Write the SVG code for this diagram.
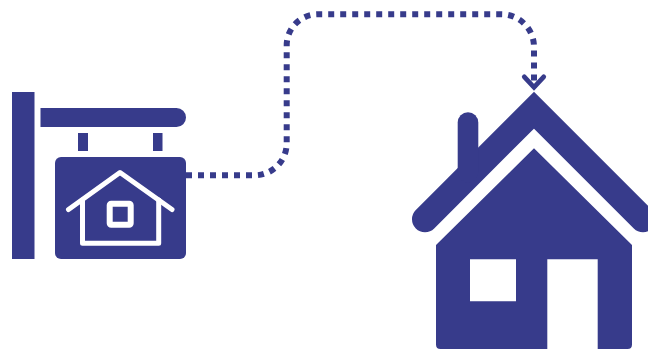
<svg xmlns="http://www.w3.org/2000/svg" width="648" height="349" viewBox="0 0 648 349">
<style>
.f{fill:#373b8b}
.w{fill:none;stroke:#fff;stroke-width:5;stroke-linecap:round;stroke-linejoin:round}
.c{fill:none;stroke:#373b8b;stroke-width:6;stroke-dasharray:6 6}
</style>
<defs>
<marker id="arrow" markerUnits="userSpaceOnUse" markerWidth="30" markerHeight="30" refX="15" refY="15" orient="auto" overflow="visible">
<path d="M4.500 5.300L15 15L4.500 24.700" fill="none" stroke="#373b8b" stroke-width="4.800" stroke-linecap="round" stroke-linejoin="miter"/>
</marker>
</defs>
<rect width="648" height="349" fill="#fff"/>
<g id="connectors">
<path class="c" marker-end="url(#arrow)" d="M186 175.300H254.700A32 32 0 0 0 286.700 143.300V45.300A31 31 0 0 1 317.700 14.300H501.400A32.600 32.600 0 0 1 534 46.900V87.300"/>
</g>
<g id="sign">
<rect class="f" x="12" y="92" width="22.500" height="167"/>
<path class="f" d="M40.500 108H176.500A9.500 9.500 0 0 1 176.500 127H40.500Z"/>
<rect class="f" x="78" y="133" width="10" height="18"/>
<rect class="f" x="153" y="133" width="9.500" height="18"/>
<rect class="f" x="55" y="157" width="131" height="102" rx="6"/>
<path class="w" d="M68.500 209.500L120 172.500L172 209.500"/>
<path class="w" d="M82.500 200V243.300H158.700V200"/>
<rect x="109.700" y="203.700" width="21" height="21" rx="1.500" fill="none" stroke="#fff" stroke-width="6" stroke-linejoin="round"/>
</g>
<g id="house">
<path d="M425 219.200L534 110.200L643 219.200" fill="none" stroke="#373b8b" stroke-width="26" stroke-linecap="round" stroke-linejoin="miter" stroke-miterlimit="4"/>
<path d="M468 122.600V172" fill="none" stroke="#373b8b" stroke-width="20.600" stroke-linecap="round"/>
<path class="f" fill-rule="evenodd" d="M534 148.300L632 245V344.500Q632 349 627.500 349H440.500Q436 349 436 344.500V245ZM470 259.300V301.300H516V259.300ZM547.300 259.300V349H597.700V259.300Z"/>
</g>
</svg>
